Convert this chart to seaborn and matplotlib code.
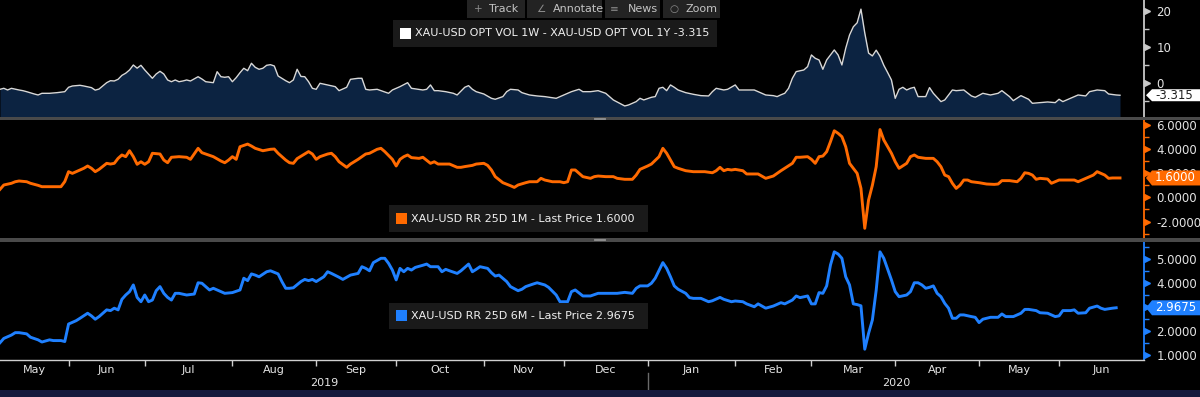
import numpy as np
import pandas as pd
import matplotlib
matplotlib.use("Agg")
import matplotlib.pyplot as plt
import seaborn as sns
from matplotlib.transforms import blended_transform_factory as blend, IdentityTransform
from matplotlib.patches import Rectangle, Polygon
from matplotlib.lines import Line2D

# ---------------- data (business-day offsets from START) ----------------
START = "2019-05-08"

vol_days = [0, 1, 2, 3, 5, 6, 7, 9, 10, 11, 13, 15, 17, 18, 19, 21, 22, 24, 25, 26,
            28, 29, 30, 31, 32, 33, 34, 35, 36, 37, 38, 40, 41, 42, 43, 44, 45, 46, 47, 48,
            49, 50, 52, 53, 54, 56, 57, 58, 59, 60, 61, 62, 63, 64, 65, 66, 67, 68, 69, 70,
            71, 72, 73, 75, 76, 77, 78, 79, 80, 81, 82, 83, 84, 86, 88, 89, 91, 92, 94, 95,
            96, 97, 99, 100, 102, 103, 105, 107, 108, 111, 112, 113, 114, 115, 117, 119, 120, 122, 123, 124,
            125, 127, 129, 130, 132, 133, 134, 136, 137, 139, 141, 143, 146, 148, 150, 152, 153, 155, 157, 159,
            161, 163, 164, 165, 167, 168, 169, 171, 172, 173, 174, 175, 176, 177, 178, 180, 182, 184, 186, 187,
            188, 190, 191, 193, 194, 196, 198, 200, 201, 203, 204, 205, 206, 207, 208, 209, 211, 212, 213, 214,
            215, 216, 217, 219, 220, 221, 222, 223, 224, 225, 226, 227, 228, 229, 230, 231, 232, 233, 234, 235,
            236, 237, 238, 239, 240, 241, 243, 244, 245, 247, 248, 250, 251, 253, 255, 256, 258, 260, 262, 263,
            265, 266, 268, 270, 271, 273, 275, 277, 278, 279, 280, 282, 283, 285, 286, 288, 290, 291, 293, 294]
vol_vals = [-1.67, -1.39, -1.86, -1.40, -1.86, -2.05, -2.33, -2.97, -3.25, -2.78, -2.78, -2.60, -2.33, -1.11, -0.75, -0.56, -0.75, -1.20, -1.90, -1.60,
            0.17, 0.72, 0.64, 1.11, 2.20, 2.80, 3.69, 5.08, 4.20, 5.00, 3.70, 1.39, 2.58, 3.33, 2.58, 0.92, 0.44, 0.92, 0.44, 0.64,
            0.92, 0.64, 1.83, 1.19, 0.44, 0.17, 3.22, 1.83, 1.67, 1.83, 0.44, 1.56, 2.94, 4.17, 3.50, 5.56, 4.44, 3.89, 4.17, 5.00,
            5.17, 4.81, 2.03, 0.72, 0.17, 0.92, 3.89, 1.90, 1.83, 0.44, -1.39, -1.67, 0.00, -0.46, -0.93, -2.05, -1.11, 1.11, 1.39, 1.39,
            -1.67, -1.86, -1.67, -2.05, -2.78, -1.86, -0.93, 0.17, -1.39, -1.86, -1.67, -0.46, -2.05, -2.05, -2.33, -2.78, -3.25, -1.11, -0.65, -1.67,
            -2.33, -2.97, -4.17, -4.44, -3.70, -2.33, -1.67, -1.86, -2.60, -3.25, -3.52, -3.70, -4.17, -3.25, -2.33, -1.67, -2.33, -2.33, -2.05, -2.78,
            -4.63, -5.74, -6.30, -6.02, -5.09, -4.17, -4.63, -3.89, -3.70, -1.39, -1.11, -2.05, -0.46, -1.11, -1.86, -2.60, -3.06, -3.43, -3.52, -2.33,
            -1.39, -1.86, -1.67, -0.46, -1.86, -1.86, -1.86, -2.78, -3.25, -3.43, -3.70, -3.20, -2.78, -1.39, 1.39, 3.24, 3.70, 4.63, 7.87, 6.94,
            6.48, 3.89, 6.48, 9.26, 7.87, 5.09, 9.72, 13.40, 15.70, 16.80, 20.60, 14.00, 8.40, 7.60, 9.20, 7.50, 5.00, 3.00, 0.93, -4.17,
            -1.67, -1.11, -1.86, -1.39, -1.11, -3.70, -3.70, -1.20, -2.78, -5.09, -4.63, -1.86, -2.05, -1.86, -3.52, -3.89, -2.78, -3.25, -2.78, -2.05,
            -3.70, -4.82, -3.43, -4.44, -5.56, -5.37, -5.19, -5.37, -4.44, -5.09, -4.63, -3.70, -3.25, -3.52, -2.33, -1.86, -2.05, -2.97, -3.25, -3.315]

rr1m_days = [0, 1, 3, 4, 5, 7, 8, 10, 11, 13, 16, 17, 18, 19, 21, 22, 23, 24, 25, 26,
             28, 29, 30, 31, 32, 33, 34, 35, 36, 37, 38, 39, 40, 42, 43, 44, 45, 47, 49, 50,
             52, 53, 54, 56, 58, 59, 60, 61, 62, 63, 65, 66, 67, 69, 71, 72, 73, 75, 76, 77,
             78, 80, 81, 82, 83, 84, 86, 87, 88, 89, 91, 92, 94, 95, 96, 97, 99, 100, 101, 103,
             104, 105, 106, 107, 108, 110, 111, 113, 114, 115, 118, 120, 121, 122, 124, 125, 127, 128, 129, 130,
             132, 134, 135, 136, 138, 139, 141, 142, 143, 145, 147, 148, 149, 150, 151, 152, 153, 155, 156, 157,
             159, 161, 162, 164, 166, 167, 168, 170, 171, 173, 174, 175, 177, 178, 180, 182, 185, 187, 188, 189,
             190, 191, 192, 193, 195, 196, 199, 201, 203, 205, 206, 208, 209, 210, 212, 213, 214, 215, 216, 217,
             218, 219, 220, 221, 222, 223, 225, 226, 227, 228, 229, 230, 231, 232, 234, 235, 236, 238, 239, 240,
             241, 243, 245, 246, 247, 248, 249, 250, 251, 252, 253, 254, 255, 257, 259, 261, 262, 263, 265, 267,
             268, 269, 270, 271, 272, 273, 275, 276, 278, 280, 282, 283, 285, 287, 288, 290, 291, 292, 294]
rr1m_vals = [0.66, 1.02, 1.16, 1.29, 1.35, 1.29, 1.16, 0.99, 0.88, 0.88, 0.88, 1.30, 2.12, 1.98, 2.26, 2.40, 2.59, 2.40, 2.12, 2.31,
             2.81, 2.75, 2.81, 3.22, 3.50, 3.36, 3.85, 3.36, 2.73, 2.94, 2.73, 2.94, 3.64, 3.58, 3.08, 2.86, 3.31, 3.36, 3.31, 3.14,
             4.05, 3.69, 3.58, 3.36, 3.00, 2.86, 3.08, 3.36, 3.14, 4.18, 4.40, 4.24, 4.05, 3.85, 3.97, 3.99, 3.64, 3.08, 2.86, 2.81,
             3.20, 3.58, 3.78, 3.58, 3.14, 3.36, 3.58, 3.64, 3.36, 2.94, 2.48, 2.75, 3.14, 3.36, 3.58, 3.64, 3.97, 4.05, 3.78, 3.14,
             2.59, 3.14, 3.36, 3.50, 3.28, 3.22, 3.31, 2.81, 2.94, 2.75, 2.75, 2.48, 2.48, 2.54, 2.64, 2.75, 2.81, 2.64, 2.26, 1.71,
             1.21, 0.96, 0.82, 1.02, 1.21, 1.29, 1.29, 1.57, 1.43, 1.29, 1.29, 1.21, 1.29, 2.26, 2.26, 1.98, 1.71, 1.57, 1.71, 1.76,
             1.71, 1.71, 1.57, 1.49, 1.49, 1.84, 2.31, 2.59, 2.75, 3.36, 4.05, 3.64, 2.53, 2.40, 2.20, 2.12, 2.12, 2.03, 2.20, 2.48,
             2.20, 2.31, 2.26, 2.31, 2.20, 1.93, 1.93, 1.57, 1.76, 2.20, 2.40, 2.81, 3.31, 3.31, 3.36, 3.14, 2.81, 3.36, 3.41, 3.77,
             4.60, 5.50, 5.29, 5.01, 4.18, 2.81, 1.98, 0.74, -2.56, -0.22, 1.00, 2.53, 5.60, 4.74, 3.64, 2.94, 2.40, 2.81, 3.36, 3.50,
             3.31, 3.22, 3.22, 2.94, 2.53, 1.84, 1.71, 1.16, 0.74, 1.00, 1.43, 1.43, 1.29, 1.21, 1.10, 1.07, 1.10, 1.38, 1.38, 1.29,
             1.57, 2.03, 1.98, 1.84, 1.49, 1.57, 1.51, 1.16, 1.43, 1.43, 1.43, 1.29, 1.57, 1.84, 2.12, 1.84, 1.57, 1.60, 1.60]

rr6m_days = [0, 1, 3, 4, 5, 7, 8, 10, 11, 13, 14, 16, 17, 18, 20, 21, 23, 24, 25, 26,
             27, 28, 29, 30, 31, 32, 33, 34, 35, 36, 37, 38, 39, 40, 41, 42, 43, 44, 45, 46,
             47, 49, 51, 52, 53, 54, 55, 56, 58, 59, 61, 63, 64, 65, 66, 67, 68, 70, 71, 73,
             74, 75, 76, 77, 79, 80, 81, 82, 83, 85, 86, 87, 89, 90, 92, 94, 95, 96, 97, 98,
             100, 101, 102, 103, 104, 105, 106, 107, 108, 109, 111, 112, 113, 115, 116, 117, 118, 120, 121, 123,
             124, 125, 126, 128, 129, 130, 131, 133, 134, 136, 137, 138, 140, 141, 143, 144, 146, 147, 149, 150,
             151, 153, 155, 157, 159, 162, 164, 166, 167, 168, 170, 171, 172, 174, 175, 176, 177, 178, 180, 181,
             182, 184, 185, 186, 187, 189, 190, 192, 193, 195, 196, 198, 199, 201, 203, 205, 206, 208, 209, 210,
             212, 213, 214, 215, 216, 217, 218, 219, 220, 221, 222, 223, 224, 225, 226, 227, 228, 229, 230, 231,
             232, 234, 235, 236, 238, 239, 240, 241, 242, 243, 244, 245, 246, 247, 248, 249, 250, 251, 252, 253,
             255, 256, 257, 258, 260, 262, 263, 264, 266, 268, 269, 270, 272, 273, 275, 277, 278, 279, 281, 282,
             283, 285, 286, 288, 289, 290, 292, 293]
rr6m_vals = [1.51, 1.69, 1.83, 1.93, 1.93, 1.88, 1.74, 1.63, 1.54, 1.63, 1.60, 1.60, 1.56, 2.29, 2.43, 2.53, 2.74, 2.63, 2.49, 2.60,
             2.74, 2.88, 2.85, 2.95, 2.88, 3.32, 3.50, 3.64, 3.92, 3.40, 3.22, 3.50, 3.22, 3.29, 3.68, 3.85, 3.57, 3.40, 3.29, 3.57,
             3.57, 3.50, 3.54, 4.01, 3.99, 3.85, 3.71, 3.78, 3.64, 3.57, 3.60, 3.71, 4.20, 4.10, 4.38, 4.33, 4.26, 4.47, 4.51, 4.38,
             4.06, 3.78, 3.78, 3.80, 4.06, 4.15, 4.10, 4.15, 4.06, 4.26, 4.47, 4.40, 4.24, 4.15, 4.33, 4.40, 4.68, 4.61, 4.51, 4.85,
             5.03, 5.03, 4.82, 4.54, 4.13, 4.61, 4.47, 4.61, 4.54, 4.65, 4.74, 4.79, 4.68, 4.68, 4.47, 4.57, 4.51, 4.40, 4.51, 4.79,
             4.47, 4.57, 4.68, 4.61, 4.43, 4.29, 4.33, 4.06, 3.85, 3.68, 3.74, 3.85, 3.96, 4.01, 3.92, 3.82, 3.50, 3.22, 3.22, 3.64,
             3.71, 3.46, 3.46, 3.57, 3.57, 3.57, 3.61, 3.57, 3.78, 3.88, 3.88, 3.99, 4.20, 4.85, 4.61, 4.26, 3.88, 3.74, 3.57, 3.39,
             3.36, 3.36, 3.29, 3.22, 3.26, 3.40, 3.32, 3.22, 3.25, 3.22, 3.13, 3.01, 3.13, 2.95, 3.04, 3.18, 3.13, 3.29, 3.46, 3.39,
             3.46, 3.13, 3.13, 3.60, 3.57, 3.88, 4.75, 5.30, 5.21, 5.03, 4.26, 3.92, 3.13, 3.10, 3.05, 1.24, 1.90, 2.46, 3.70, 5.30,
             5.03, 4.13, 3.64, 3.43, 3.50, 3.64, 4.01, 4.01, 3.92, 3.78, 3.82, 3.88, 3.57, 3.43, 3.15, 2.95, 2.53, 2.53, 2.67, 2.67,
             2.60, 2.57, 2.35, 2.49, 2.57, 2.57, 2.71, 2.60, 2.60, 2.74, 2.90, 2.90, 2.85, 2.76, 2.74, 2.60, 2.63, 2.85, 2.85, 2.88,
             2.74, 2.76, 2.95, 3.04, 2.95, 2.90, 2.95, 2.9675]

month_labels = ["May", "Jun", "Jul", "Aug", "Sep", "Oct", "Nov", "Dec",
                "Jan", "Feb", "Mar", "Apr", "May", "Jun"]
year_labels = ["2019", "2020"]
legend_texts = ["XAU-USD OPT VOL 1W - XAU-USD OPT VOL 1Y -3.315",
                "XAU-USD RR 25D 1M - Last Price 1.6000",
                "XAU-USD RR 25D 6M - Last Price 2.9675"]
last_labels = ["-3.315", "1.6000", "2.9675"]
toolbar_items = [("+", "Track"), ("\u2220", "Annotate"), ("\u2261", "News"), ("\u25cb", "Zoom")]

# ---------------- styling ----------------
plt.rcParams["font.family"] = ["DejaVu Sans"]
BG = "black"
FILL = "#0c2341"
WHITE_LINE = "#d8d8d8"
ORANGE = "#ff6a00"
BLUE = "#1f80ff"
SEP = "#4a4a4a"
TXT = "#e4e4e4"

W, H = 1200, 397
fig = plt.figure(figsize=(W / 100, H / 100), dpi=100, facecolor=BG)


def fx(px):
    return px / W


def fy(py):
    return 1 - py / H


AX_RIGHT = 1144
XMAX = 300.3


def make_ax(top, bottom):
    ax = fig.add_axes([0, fy(bottom), fx(AX_RIGHT), (bottom - top) / H])
    ax.set_facecolor(BG)
    return ax


def frame(days, vals):
    dates = np.busday_offset(START, days, roll="forward")
    x = np.busday_count(START, dates)
    return pd.DataFrame({"date": dates, "x": x, "value": vals})


ax1 = make_ax(0, 116.7)
ax2 = make_ax(120, 238)
ax3 = make_ax(242, 360)

df1 = frame(vol_days, vol_vals)
df2 = frame(rr1m_days, rr1m_vals)
df3 = frame(rr6m_days, rr6m_vals)

Y1 = (-9.28, 23.14)
Y2 = (-3.36, 6.39)
Y3 = (0.79, 5.71)

ax1.fill_between(df1["x"], df1["value"], Y1[0], color=FILL, lw=0, zorder=1)
sns.lineplot(data=df1, x="x", y="value", ax=ax1, color=WHITE_LINE, lw=1.0,
             estimator=None, legend=False, zorder=2)
sns.lineplot(data=df2, x="x", y="value", ax=ax2, color=ORANGE, lw=2.1,
             estimator=None, legend=False)
sns.lineplot(data=df3, x="x", y="value", ax=ax3, color=BLUE, lw=2.1,
             estimator=None, legend=False)


def style_axis(ax, ylim, majors, minors, fmt, color):
    ax.set_xlim(0, XMAX)
    ax.set_ylim(*ylim)
    ax.set_xlabel("")
    ax.set_ylabel("")
    for s in ["top", "left", "bottom"]:
        ax.spines[s].set_visible(False)
    ax.spines["right"].set_color(color)
    ax.spines["right"].set_linewidth(1.3)
    ax.yaxis.tick_right()
    ax.set_yticks(majors)
    ax.set_yticklabels([fmt.format(v) for v in majors])
    ax.set_yticks(minors, minor=True)
    ax.tick_params(axis="y", which="major", length=0, pad=9, labelsize=8.5,
                   labelcolor=TXT)
    ax.tick_params(axis="y", which="minor", length=3.5, width=1, color=color,
                   direction="out")
    ax.set_xticks([])
    tr = blend(ax.transAxes, ax.transData)
    ax.plot([1 + 3 / AX_RIGHT] * len(majors), majors, ls="none", marker=">",
            ms=4.5, color=color, transform=tr, clip_on=False)


style_axis(ax1, Y1, [0, 10, 20], [-5, 5, 15], "{:.0f}", "#c8c8c8")
style_axis(ax2, Y2, [-2, 0, 2, 4, 6], [-3, -1, 1, 3, 5], "{:.4f}", ORANGE)
style_axis(ax3, Y3, [1, 2, 3, 4, 5], [1.5, 2.5, 3.5, 4.5, 5.5], "{:.4f}", BLUE)

# x axis (business-day scale) with month boundaries
month_starts = pd.date_range("2019-06-01", "2020-06-01", freq="MS").values.astype("datetime64[D]")
month_ticks = np.busday_count(START, month_starts)
ax3.spines["bottom"].set_visible(True)
ax3.spines["bottom"].set_color("#cfcfcf")
ax3.spines["bottom"].set_linewidth(1.0)
ax3.set_xticks(month_ticks)
ax3.tick_params(axis="x", length=4, width=1, color="#cfcfcf", labelbottom=False,
                direction="out")

bounds = np.concatenate([[0], month_ticks, [XMAX]]).astype(float)
mids = (bounds[:-1] + bounds[1:]) / 2
trx = blend(ax3.transData, fig.transFigure)
for m, lab in zip(mids, month_labels):
    fig.text(m, fy(370), lab, transform=trx, ha="center", va="center",
             color=TXT, fontsize=8)

jan = np.busday_count(START, np.datetime64("2020-01-01"))
year_bounds = [0, jan, XMAX]
for i, lab in enumerate(year_labels):
    fig.text((year_bounds[i] + year_bounds[i + 1]) / 2, fy(383), lab, transform=trx,
             ha="center", va="center", color=TXT, fontsize=8)
fig.add_artist(Line2D([jan, jan], [fy(373), fy(390)], transform=trx,
                      color="#6a6a6a", lw=1))

# separators and bottom band
for y0, y1 in [(116.7, 120), (238, 241.7)]:
    fig.add_artist(Rectangle((0, fy(y1)), 1, (y1 - y0) / H, transform=fig.transFigure,
                             color=SEP, lw=0, zorder=2))
    for dy in (0.9, 2.3):
        fig.add_artist(Line2D([fx(594), fx(605)], [fy(y0 + dy), fy(y0 + dy)],
                              transform=fig.transFigure, color="#9a9a9a", lw=0.6, zorder=3))
fig.add_artist(Rectangle((0, 0), 1, 7 / H, transform=fig.transFigure,
                         color="#151a3c", lw=0, zorder=2))

# toolbar
tool_boxes = [(467, 525, 478, 489), (527, 602, 541, 553), (605, 660, 614, 628), (663, 720, 674, 686)]
for (bx0, bx1, ix, tx), (icon, lab) in zip(tool_boxes, toolbar_items):
    fig.add_artist(Rectangle((fx(bx0), fy(17.5)), fx(bx1 - bx0), 17.5 / H,
                             transform=fig.transFigure, color="#232323", lw=0, zorder=4))
    fig.text(fx(ix), fy(9), icon, ha="center", va="center", color="#8c8c8c",
             fontsize=7.5, zorder=5)
    fig.text(fx(tx), fy(9), lab, ha="left", va="center", color="#c4c4c4",
             fontsize=8, zorder=5)

# legends
legend_geom = [((393, 717, 20, 47), (400, 28), "#ffffff"),
               ((389, 648, 205, 232), (396, 213), ORANGE),
               ((389, 648, 303, 329), (396, 310), BLUE)]
for ((lx0, lx1, ly0, ly1), (sx, sy), col), text in zip(legend_geom, legend_texts):
    fig.add_artist(Rectangle((fx(lx0), fy(ly1)), fx(lx1 - lx0), (ly1 - ly0) / H,
                             transform=fig.transFigure, color="#1a1a1a", lw=0, zorder=4))
    fig.add_artist(Rectangle((fx(sx), fy(sy + 11)), fx(11), 11 / H,
                             transform=fig.transFigure, color=col, lw=0, zorder=5))
    fig.text(fx(sx + 15), fy((ly0 + ly1) / 2), text, ha="left", va="center",
             color="#f0f0f0", fontsize=8, zorder=5)

# last value tags: arrow-shaped boxes sitting over the right axis labels
last_vals = [vol_vals[-1], rr1m_vals[-1], rr6m_vals[-1]]
tag_styles = [("#ffffff", "#202020", 12), (ORANGE, "#ffffff", 15), (BLUE, "#ffffff", 15)]
for ax, val, lab, (fc, tc, h) in zip([ax1, ax2, ax3], last_vals, last_labels, tag_styles):
    yc = ax.transData.transform((0, val))[1]          # display (pixel) y of the value
    verts = [(1146, yc), (1152, yc + h / 2), (1200, yc + h / 2),
             (1200, yc - h / 2), (1152, yc - h / 2)]
    fig.add_artist(Polygon(verts, closed=True, transform=IdentityTransform(),
                           fc=fc, ec="none", zorder=6))
    fig.text(1155, yc, lab, transform=IdentityTransform(), ha="left", va="center",
             color=tc, fontsize=8.5, zorder=7)

fig.savefig("out.png", dpi=100, facecolor=BG)
